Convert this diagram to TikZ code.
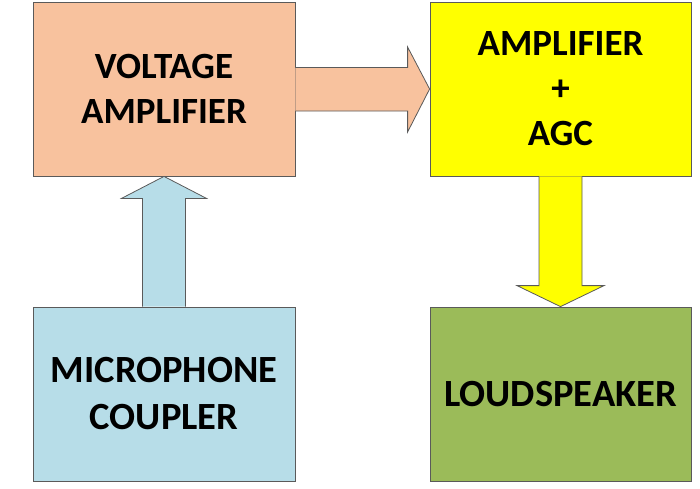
\documentclass[tikz,border=0pt]{standalone}
\usepackage{fontspec}
\setmainfont{Carlito}
\usetikzlibrary{calc}
\definecolor{orangebox}{HTML}{F8C29E}
\definecolor{bluebox}{HTML}{B7DDE8}
\definecolor{greenbox}{HTML}{9BBB59}
\definecolor{yellowbox}{HTML}{FFFF00}
\definecolor{edgegray}{HTML}{5A5A5A}
\tikzset{
  block/.style={draw=edgegray, line width=0.8pt, minimum width=262pt, minimum height=174pt,
    inner sep=0pt, align=center, text=black},
  toptext/.style={font=\fontsize{37}{45}\selectfont\bfseries},
  bottext/.style={font=\fontsize{38.5}{47}\selectfont\bfseries},
  blockarrow/.style={draw=edgegray, line width=0.8pt, line join=miter},
}
\begin{document}
\begin{tikzpicture}[x=1pt,y=-1pt]
\useasboundingbox (0,0) rectangle (700,488);
\node[block, toptext, fill=orangebox] (va) at (164,89) {VOLTAGE\\AMPLIFIER};
\node[block, toptext, fill=yellowbox, minimum width=261pt] (agc) at (560.5,89) {AMPLIFIER\\+\\AGC};
\node[block, bottext, fill=bluebox] (mic) at (164,394) {MICROPHONE\\COUPLER};
\node[block, bottext, fill=greenbox, minimum width=261pt] (ls) at (560.5,394) {LOUDSPEAKER};
% right arrow: voltage amplifier -> amplifier + AGC
\path[blockarrow, fill=orangebox]
  ($(va.east)+(0,-21.5)$) -- ($(agc.west)+(-22,-21.5)$) -- ($(agc.west)+(-22,-42)$)
  -- (agc.west) -- ($(agc.west)+(-22,43)$) -- ($(agc.west)+(-22,22)$) -- ($(va.east)+(0,22)$);
% up arrow: microphone coupler -> voltage amplifier
\path[blockarrow, fill=bluebox]
  ($(mic.north)+(-21.5,0)$) -- ($(va.south)+(-21.5,22)$) -- ($(va.south)+(-42.5,22)$)
  -- (va.south) -- ($(va.south)+(42.5,22)$) -- ($(va.south)+(21.5,22)$) -- ($(mic.north)+(21.5,0)$);
% down arrow: amplifier + AGC -> loudspeaker
\path[blockarrow, fill=yellowbox]
  ($(agc.south)+(-21.5,0)$) -- ($(ls.north)+(-21.5,-21)$) -- ($(ls.north)+(-43.5,-21)$)
  -- (ls.north) -- ($(ls.north)+(43.5,-21)$) -- ($(ls.north)+(21.5,-21)$) -- ($(agc.south)+(21.5,0)$);
\end{tikzpicture}
\end{document}
